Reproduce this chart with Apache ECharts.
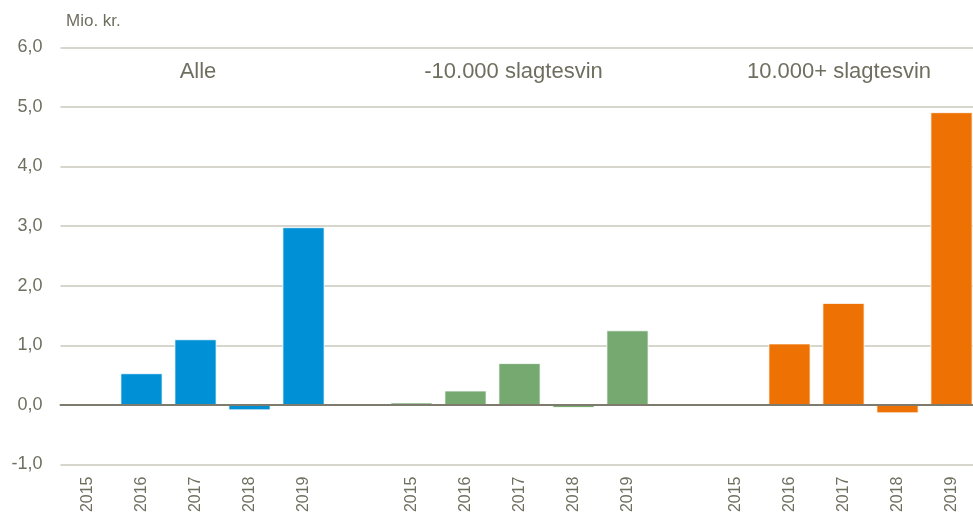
<!DOCTYPE html>
<html>
<head>
<meta charset="utf-8">
<script src="https://cdn.jsdelivr.net/npm/echarts@6/dist/echarts.min.js"></script>
<style>
  html, body { margin: 0; padding: 0; background: #ffffff; }
  #chart { width: 973px; height: 522px; }
</style>
</head>
<body>
<div id="chart"></div>
<script>
// ---- data ----
var years = ['2015', '2016', '2017', '2018', '2019'];
var groupTitles = ['Alle', '-10.000 slagtesvin', '10.000+ slagtesvin'];
var alle = [0.02, 0.53, 1.10, -0.09, 2.98];
var under10000 = [0.04, 0.24, 0.70, -0.05, 1.25];
var over10000 = [0, 1.03, 1.71, -0.14, 4.91];
var yTicks = [-1, 0, 1, 2, 3, 4, 5, 6];

// ---- build category axis: 3 groups of years separated by one empty slot ----
var categories = [].concat(years, [''], years, [''], years);
function place(values, groupIndex) {
  var out = [];
  for (var i = 0; i < categories.length; i++) out.push(null);
  var start = groupIndex * (years.length + 1);
  for (var j = 0; j < values.length; j++) out[start + j] = values[j];
  return out;
}

var textColor = '#6f6f60';
var fontFam = '"Liberation Sans", Arial, sans-serif';

var chart = echarts.init(document.getElementById('chart'));

function barSeries(name, values, gi, color) {
  return {
    name: name,
    type: 'bar',
    data: place(values, gi),
    barWidth: 42,
    barGap: '-100%',
    itemStyle: { color: color, borderColor: '#ffffff', borderWidth: 0.8 },
    animation: false
  };
}

var option = {
  backgroundColor: '#ffffff',
  animation: false,
  grid: { left: 60.5, width: 918, top: 47.3, height: 417.2, containLabel: false, outerBoundsMode: 'none' },
  xAxis: [
    {
      type: 'category',
      data: categories,
      position: 'bottom',
      axisLine: { show: false },
      axisTick: { show: false },
      axisLabel: {
        rotate: 90, interval: 0, margin: 12,
        color: textColor, fontSize: 16, fontFamily: fontFam
      },
      splitLine: { show: false }
    },
    {
      type: 'category',
      data: categories,
      position: 'bottom',
      z: 5,
      axisLine: { show: true, onZero: true, onZeroAxisIndex: 0, lineStyle: { color: '#7d7b6d', width: 2 } },
      axisTick: { show: false },
      axisLabel: { show: false },
      splitLine: { show: false }
    }
  ],
  yAxis: {
    type: 'value',
    min: yTicks[0],
    max: yTicks[yTicks.length - 1],
    interval: 1,
    axisLine: { show: false },
    axisTick: { show: false },
    axisLabel: {
      margin: 18,
      color: textColor, fontSize: 18, fontFamily: fontFam,
      formatter: function (v) { return v.toFixed(1).replace('.', ','); }
    },
    splitLine: { show: true, lineStyle: { color: '#c9c8bb', width: 1.5 } }
  },
  series: [
    barSeries(groupTitles[0], alle, 0, '#0090d5'),
    barSeries(groupTitles[1], under10000, 1, '#76a970'),
    barSeries(groupTitles[2], over10000, 2, '#ee7203')
  ],
  graphic: [
    { type: 'text', left: 66, top: 13, style: { text: 'Mio. kr.', fill: textColor, font: '17px ' + fontFam } },
    { type: 'text', x: 198, y: 72, style: { text: groupTitles[0], fill: textColor, font: '22px ' + fontFam, textAlign: 'center', textVerticalAlign: 'middle' } },
    { type: 'text', x: 513.5, y: 72, style: { text: groupTitles[1], fill: textColor, font: '22px ' + fontFam, textAlign: 'center', textVerticalAlign: 'middle' } },
    { type: 'text', x: 839, y: 72, style: { text: groupTitles[2], fill: textColor, font: '22px ' + fontFam, textAlign: 'center', textVerticalAlign: 'middle' } }
  ]
};

chart.setOption(option);
</script>
</body>
</html>
